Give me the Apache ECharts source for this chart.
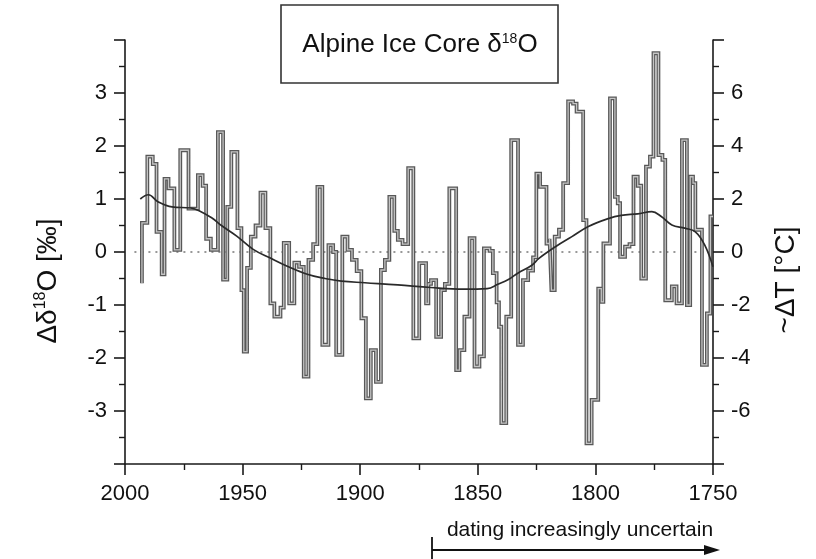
<!DOCTYPE html>
<html><head><meta charset="utf-8">
<script src="https://cdn.jsdelivr.net/npm/echarts@6/dist/echarts.min.js"></script>
<style>html,body{margin:0;padding:0;background:#fff}#c{width:816px;height:559px}</style>
</head><body><div id="c"></div>
<script>
// Step series (year at which each level starts, moving toward 1750)
const stepYears = [1992.8,1992.8,1990.5,1988.2,1986.6,1984.4,1983.2,1981.5,1979,1976.5,1973,1969,1967,1965.5,1963.5,1960.5,1958.3,1956.5,1954.8,1952.2,1950.5,1949.5,1948.1,1946.5,1944.5,1942.4,1940.3,1938.2,1936.5,1933.9,1932.5,1930.2,1928,1926,1924,1922,1920,1918.2,1916.1,1913.5,1911.5,1910.2,1907.6,1905.4,1903.5,1901.5,1899.5,1897.6,1895.5,1893.3,1891.2,1889.5,1887.6,1885.5,1884,1882,1879.6,1877.4,1874.9,1872,1871,1869.9,1867.7,1865.6,1864,1862.1,1859.2,1857.8,1855.7,1853.5,1851.4,1849.3,1847.4,1845,1843.6,1842,1841,1840,1837.9,1835.8,1832.9,1830.8,1828.6,1826.5,1825.1,1823.5,1820.8,1819.5,1818.7,1817.3,1815.5,1813.7,1811.6,1809.5,1808,1805.2,1803.8,1801.6,1798.8,1797.5,1796.6,1793.8,1791.7,1790.5,1789.5,1787.4,1785.5,1783.8,1782,1780.5,1778.5,1776.8,1775.3,1773.2,1771.5,1770.3,1767.5,1765.5,1763.2,1761.1,1759.7,1758.5,1757.5,1754.7,1752.6,1751.1,1750];
const stepValues = [-0.59,0.55,1.80,1.66,0.38,-0.42,1.38,1.20,0.04,1.92,0.82,1.45,1.25,0.25,0.04,2.26,-0.52,0.85,1.89,0.45,-0.72,-1.88,-0.30,0.29,0.50,1.12,0.45,-0.97,-1.22,-1.05,0.17,-0.97,-0.20,-0.28,-2.35,-0.15,0.15,1.23,-1.75,0.13,0.0,-1.94,0.29,0.04,-0.15,-0.36,-1.25,-2.76,-1.85,-2.45,-0.34,-0.15,1.04,0.40,0.23,0.15,1.58,-1.63,-0.21,-0.97,-0.60,-0.53,-1.60,-0.72,-0.60,1.20,-2.23,-1.85,-1.22,0.26,-2.16,-1.97,0.07,0.02,-0.40,-0.95,-1.41,-3.23,-1.22,2.11,-1.75,-0.53,-0.35,-0.10,1.48,1.23,0.16,0.25,-0.72,0.29,0.42,1.30,2.84,2.80,2.65,0.60,-3.61,-2.79,-0.69,-0.94,0.16,2.90,1.04,0.92,-0.09,0.10,0.15,1.42,1.25,-0.50,1.61,1.80,3.75,1.83,1.74,-0.91,-0.65,-0.97,2.11,-1.00,1.42,1.30,0.42,-2.13,-1.16,0.67,0.67];
// Smoothed curve
const smoothYears = [1993.5,1990,1986,1980,1972,1968.5,1963,1959,1952.5,1945.5,1938,1931,1922.5,1915,1908,1898,1884,1870,1856,1846,1841.5,1837,1833,1827,1824,1817,1810,1803,1794.5,1789,1782,1776,1772,1767.5,1762,1757.5,1753.5,1750];
const smoothValues = [1.0,1.08,0.95,0.85,0.83,0.78,0.64,0.5,0.3,0.05,-0.12,-0.27,-0.42,-0.5,-0.55,-0.58,-0.62,-0.67,-0.70,-0.69,-0.61,-0.52,-0.40,-0.25,-0.12,0.1,0.29,0.48,0.63,0.69,0.72,0.76,0.67,0.51,0.45,0.38,0.13,-0.28];
// Zero reference line
const zeroYears = [1996, 1750];
const zeroValues = [0, 0];
// Tick labels
const xTicks = [2000,1950,1900,1850,1800,1750];
const leftTicks = [-3,-2,-1,0,1,2,3];
const rightTicks = [-6,-4,-2,0,2,4,6];

const pair = (xs, ys) => xs.map((x, i) => [x, ys[i]]);
const FONT = "'Liberation Sans', Arial, sans-serif";
const chart = echarts.init(document.getElementById('c'), null, {renderer: 'canvas'});

const axisCommon = {
  axisLine: {show: true, onZero: false, lineStyle: {color: '#1a1a1a', width: 1.6}},
  axisTick: {show: true, inside: false, length: 11, lineStyle: {color: '#1a1a1a', width: 1.6}},
  minorTick: {show: true, splitNumber: 2, length: 6, lineStyle: {color: '#1a1a1a', width: 1.4}},
  splitLine: {show: false},
  axisLabel: {color: '#111', fontSize: 22, fontFamily: FONT, margin: 18}
};

chart.setOption({
  animation: false,
  backgroundColor: '#fff',
  grid: {left: 125, right: 103, top: 40, bottom: 95},
  xAxis: Object.assign({}, axisCommon, {
    type: 'value', inverse: true, min: 1750, max: 2000, interval: 50,
    axisLabel: Object.assign({}, axisCommon.axisLabel, {margin: 19,
      formatter: v => xTicks.includes(v) ? String(v) : ''})
  }),
  yAxis: [
    Object.assign({}, axisCommon, {
      type: 'value', min: -4, max: 4, interval: 1, position: 'left',
      axisLabel: Object.assign({}, axisCommon.axisLabel, {
        formatter: v => leftTicks.includes(v) ? String(v) : ''})
    }),
    Object.assign({}, axisCommon, {
      type: 'value', min: -8, max: 8, interval: 2, position: 'right',
      axisLabel: Object.assign({}, axisCommon.axisLabel, {
        formatter: v => rightTicks.includes(v) ? String(v) : ''})
    })
  ],
  series: [
    {type: 'line', data: pair(zeroYears, zeroValues), symbol: 'none', silent: true,
     lineStyle: {color: '#777', width: 1.5, type: [2, 5]}, z: 1},
    {type: 'line', step: 'end', data: pair(stepYears, stepValues), symbol: 'none',
     lineStyle: {color: '#585858', width: 3.8, join: 'miter'}, z: 2},
    {type: 'line', step: 'end', data: pair(stepYears, stepValues), symbol: 'none',
     lineStyle: {color: '#c4c4c4', width: 1.3, join: 'miter'}, z: 3},
    {type: 'line', smooth: 0.4, data: pair(smoothYears, smoothValues), symbol: 'none',
     lineStyle: {color: '#2a2a2a', width: 1.7}, z: 4}
  ],
  graphic: [
    {type: 'rect', shape: {x: 281, y: 5, width: 277, height: 78},
     style: {fill: '#fff', stroke: '#333', lineWidth: 1.6}, z: 10},
    {type: 'text', x: 420, y: 45, z: 11,
     style: {text: 'Alpine Ice Core δ{s|18}O', fill: '#111', font: '26px ' + FONT,
       align: 'center', verticalAlign: 'middle',
       rich: {s: {fontSize: 14, fontFamily: FONT, fill: '#111', padding: [0,0,12,0]}}}},
    {type: 'text', x: 48, y: 281, rotation: Math.PI / 2, z: 11,
     style: {text: 'Δδ{s|18}O [‰]', fill: '#111', font: '28px ' + FONT,
       align: 'center', verticalAlign: 'middle',
       rich: {s: {fontSize: 16, fontFamily: FONT, fill: '#111', padding: [0,0,14,0]}}}},
    {type: 'text', x: 786, y: 280, rotation: Math.PI / 2, z: 11,
     style: {text: '~ΔT [°C]', fill: '#111', font: '28px ' + FONT,
       align: 'center', verticalAlign: 'middle'}},
    {type: 'text', x: 580, y: 530, z: 11,
     style: {text: 'dating increasingly uncertain', fill: '#111', font: '21px ' + FONT,
       align: 'center', verticalAlign: 'middle'}},
    {type: 'line', shape: {x1: 432, y1: 550, x2: 706, y2: 550}, style: {stroke: '#111', lineWidth: 1.8}, z: 11},
    {type: 'line', shape: {x1: 432, y1: 537, x2: 432, y2: 559}, style: {stroke: '#111', lineWidth: 1.8}, z: 11},
    {type: 'polygon', shape: {points: [[720, 550], [704, 545], [704, 555]]}, style: {fill: '#111'}, z: 11}
  ]
});
</script></body></html>
